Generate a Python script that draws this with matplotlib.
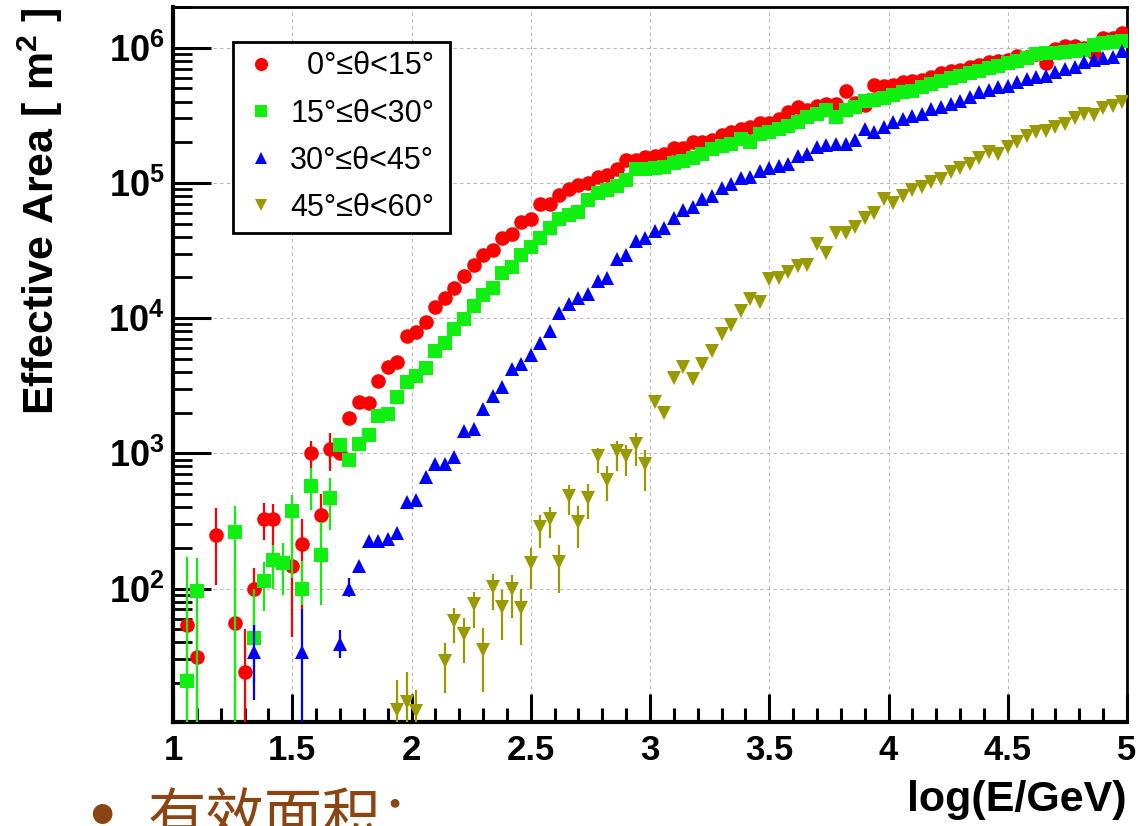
import matplotlib
matplotlib.use("Agg")
import numpy as np
import matplotlib.pyplot as plt
from matplotlib.lines import Line2D
from matplotlib.ticker import FixedLocator, MultipleLocator, LogLocator, NullFormatter, FuncFormatter

plt.rcParams['font.family'] = ['Liberation Sans', 'DejaVu Sans']
plt.rcParams['font.weight'] = 'bold'
plt.rcParams['mathtext.fontset'] = 'custom'
plt.rcParams['mathtext.rm'] = 'Liberation Sans'
plt.rcParams['mathtext.bf'] = 'Liberation Sans:bold'
plt.rcParams['mathtext.it'] = 'Liberation Sans:italic'

# ---- binning: 100 bins of width 0.04 in log10(E/GeV) ----
bin_centres = [round(1.02 + 0.04 * k, 2) for k in range(100)]

# ---- effective area [m^2] per zenith band (None = empty bin) ----
area_0_15 = [
    None, 54, 31, None, 247, None, 56, 24, 100, 328,
    325, None, 147, 213, 1000, 348, 1077, 1005, 1820, 2390,
    2370, 3410, 4355, 4775, 7360, 7930, 9400, 12100, 14100, 16700,
    20500, 24700, 29300, 31900, 38900, 41700, 51400, 54500, 70300, 70300,
    81100, 90800, 96200, 100500, 110700, 114800, 126200, 148600, 147200, 156000,
    158500, 163000, 180700, 180700, 201400, 201400, 208400, 227000, 236000, 250000,
    261000, 276700, 276700, 299200, 337300, 361400, 345100, 371500, 384600, 382800,
    479700, 389000, 378400, 529700, 518800, 531000, 553000, 570000, 575000, 610000,
    646000, 668000, 684000, 716000, 745000, 780000, 794000, 813000, 871000, 851000,
    891000, 766000, 977000, 1023000, 1023000, 1000000, 912000, 1175000, 1175000, 1288000,
]
area_15_30 = [
    None, 20.7, 96, None, None, None, 260, None, 43, 114,
    163, 154, 372, 100, 577, 178, 466, 1143, 885, 1180,
    1355, 1880, 1945, 2590, 3365, 3715, 4285, 5700, 6515, 8320,
    9770, 12390, 14800, 16750, 21700, 23900, 29300, 33600, 38900, 46100,
    53800, 57900, 61200, 74500, 84100, 88100, 95100, 105900, 126200, 127600,
    128500, 131500, 141300, 145500, 152400, 163000, 177800, 187900, 193600, 210900,
    201400, 229600, 239900, 252400, 264200, 279900, 304800, 322800, 345100, 304800,
    345100, 361400, 404600, 410200, 421700, 446700, 466700, 479700, 508200, 538300,
    570200, 597000, 620900, 648600, 676100, 707900, 736200, 765600, 801700, 839500,
    897500, 907800, 914100, 922600, 939700, 961600, 1052000, 1076000, 1096000, 1114000,
]
area_30_45 = [
    None, None, None, None, None, None, None, None, 34, None,
    None, None, None, 34, None, None, None, 39, 100, 147,
    225, 224, 231, 257, 435, 455, 667, 828, 828, 944,
    1455, 1520, 2140, 2640, 3090, 4170, 4540, 5380, 6560, 8020,
    10840, 12620, 14130, 15140, 18920, 19950, 27480, 29310, 37150, 38900,
    44060, 46670, 55340, 62810, 66370, 75680, 80170, 92260, 98850, 108400,
    110700, 122700, 129700, 133700, 139000, 158500, 163000, 184900, 191000, 195400,
    193600, 207000, 250000, 236000, 259400, 281800, 296500, 313300, 322800, 351600,
    365600, 382800, 404600, 428500, 466700, 488700, 508200, 523600, 553400, 586100,
    602600, 620900, 656100, 695000, 714500, 778000, 810900, 833700, 847200, 950600,
]
area_45_60 = [
    None, None, None, None, None, None, None, None, None, None,
    None, None, None, None, None, None, None, None, None, None,
    None, None, None, 12.6, 14.6, 12.4, None, None, 29.1, 57.7,
    46.0, 76.7, 35.2, 103.5, 73.1, 98.8, 71.4, 154, 283, 328,
    158, 486, 313, 467, 951, 638, 1047, 951, 1172, 834,
    2400, 2000, 3614, 4335, 3548, 4540, 5702, 7656, 8830, 11270,
    13740, 13210, 19540, 19910, 22030, 24270, 24720, 35160, 30130, 42850,
    42850, 47420, 55340, 60260, 75860, 70470, 80170, 88310, 93330, 102300,
    106400, 119400, 129700, 137400, 152400, 167900, 164800, 182800, 201400, 222800,
    236000, 242700, 257000, 274800, 301300, 325800, 319200, 357300, 371500, 399900,
]

# ---- statistical error bars (low / high ends) where they stick out of the markers ----
bars_0_15_x = [1.06, 1.10, 1.18, 1.26, 1.30, 1.34, 1.38, 1.42, 1.50, 1.54, 1.58, 1.62, 1.66]
bars_0_15_lo = [0, 0, 106, 0, 0, 40, 229, 100, 44, 69, 778, 251, 736]
bars_0_15_hi = [106, 57, 394, 150, 50, 141, 429, 419, 331, 324, 1242, 497, 1413]

bars_15_30_x = [1.06, 1.10, 1.26, 1.34, 1.38, 1.42, 1.46, 1.50, 1.54, 1.58, 1.62, 1.66]
bars_15_30_lo = [0, 0, 0, 20, 68, 100, 90, 119, 76, 383, 76, 272]
bars_15_30_hi = [170, 168, 405, 100, 158, 211, 217, 494, 160, 778, 313, 656]

bars_30_45_x = [1.34, 1.54, 1.70, 1.74]
bars_30_45_lo = [15, 0, 30.5, 87]
bars_30_45_hi = [54, 70, 49, 119]

bars_45_60_x = [1.94, 1.98, 2.02, 2.14, 2.18, 2.22, 2.26, 2.30, 2.34, 2.38, 2.42, 2.46, 2.50,
                2.54, 2.58, 2.62, 2.66, 2.70, 2.74, 2.78, 2.82, 2.86, 2.90, 2.94, 2.98]
bars_45_60_lo = [0, 0, 0, 16.8, 39.4, 28, 50.8, 17.3, 69.5, 41.7, 60.3, 38.5, 100,
                 199.5, 236, 92.5, 352, 199.5, 324, 714, 441, 736, 676, 802, 524]
bars_45_60_hi = [21.1, 24.3, 17.8, 39.4, 71.4, 60.3, 95, 50.8, 127.6, 97.7, 125.9, 100, 199.5,
                 351.6, 398, 208.9, 586, 404.6, 593, 1094, 802, 1227, 1159, 1413, 1064]

labels = ['  0°≤θ<15°', '15°≤θ<30°', '30°≤θ<45°', '45°≤θ<60°']
colors = ['#ff0000', '#10f010', '#0000ff', '#999900']
markers = ['o', 's', '^', 'v']
marker_sizes = [10.5, 9.5, 9.5, 10.0]

series = [
    (area_0_15, bars_0_15_x, bars_0_15_lo, bars_0_15_hi),
    (area_15_30, bars_15_30_x, bars_15_30_lo, bars_15_30_hi),
    (area_30_45, bars_30_45_x, bars_30_45_lo, bars_30_45_hi),
    (area_45_60, bars_45_60_x, bars_45_60_lo, bars_45_60_hi),
]

W, H = 1138, 826
fig = plt.figure(figsize=(W / 100, H / 100), dpi=100)
ax = fig.add_axes([173 / W, 1 - 722 / H, (1127 - 173) / W, (722 - 7) / H])

ax.set_xlim(1, 5)
ax.set_yscale('log')
ax.set_ylim(10.3, 2.0e6)

x_all = np.array(bin_centres)
for k, (vals, bx, blo, bhi) in enumerate(series):
    y = np.array([np.nan if v is None else v for v in vals], dtype=float)
    lo = np.maximum(np.array(blo, dtype=float), 1e-3)
    ax.vlines(bx, lo, bhi, colors=colors[k], linewidth=1.6, zorder=3 + 2 * k)
    ax.plot(x_all, y, linestyle='none', marker=markers[k], ms=marker_sizes[k],
            color=colors[k], markeredgewidth=0, zorder=4 + 2 * k)

# axes styling
ax.set_axisbelow(True)
ax.grid(True, which='major', color='#b8b8b8', linestyle=(0, (3, 3)), linewidth=0.8)

ax.xaxis.set_major_locator(MultipleLocator(0.5))
ax.xaxis.set_minor_locator(MultipleLocator(0.1))
ax.xaxis.set_major_formatter(FuncFormatter(lambda v, p: f'{v:g}'))

ax.yaxis.set_major_locator(FixedLocator([1e2, 1e3, 1e4, 1e5, 1e6]))
ax.yaxis.set_major_formatter(FuncFormatter(lambda v, p: r'$\mathbf{10^{%d}}$' % round(np.log10(v))))
ax.yaxis.set_minor_locator(LogLocator(base=10, subs=np.arange(2, 10), numticks=20))
ax.yaxis.set_minor_formatter(NullFormatter())

ax.tick_params(which='both', direction='in', top=False, right=False, color='black')
ax.tick_params(axis='x', which='major', length=20, width=2.2, pad=9, labelsize=25)
ax.tick_params(axis='x', which='minor', length=10, width=2.2)
ax.tick_params(axis='y', which='major', length=27, width=2.2, pad=6, labelsize=26)
ax.tick_params(axis='y', which='minor', length=14, width=2.0)

for side, lw in (('left', 3.0), ('bottom', 3.0), ('top', 2.0), ('right', 2.0)):
    ax.spines[side].set_linewidth(lw)

# legend
handles = [Line2D([], [], linestyle='none', marker=markers[k], ms=marker_sizes[k] * 0.9,
                  color=colors[k], markeredgewidth=0) for k in range(4)]
leg = ax.legend(handles, labels, loc='upper left',
                bbox_to_anchor=((233 - 173) / 954, 0.684, (450 - 233) / 954, 0.2675),
                mode='expand', borderaxespad=0, frameon=True, fancybox=False,
                edgecolor='black', framealpha=1, borderpad=0.32, labelspacing=0.56,
                handlelength=1.22, handletextpad=0.33, numpoints=1,
                prop={'family': ['Liberation Sans', 'DejaVu Sans'], 'weight': 'normal', 'size': 22})
leg.get_frame().set_linewidth(2)
leg.set_zorder(20)

# axis titles
fig.text(40 / W, 1 - 211 / H, r'Effective Area [ m$^{\mathbf{2}}$ ]', rotation=90,
         ha='center', va='center', fontsize=31, fontweight='bold')
fig.text(1127 / W, 1 - 800 / H, 'log(E/GeV)', ha='right', va='center',
         fontsize=31, fontweight='bold')

# slide caption below the plot
caption_color = '#8b4513'
fig.text(89 / W, 1 - 838 / H, '•', ha='left', va='baseline', fontsize=52,
         color=caption_color, fontweight='normal', family=['Liberation Sans', 'DejaVu Sans'])
fig.text(148 / W, 1 - 836 / H, '有效面积：', ha='left', va='baseline', fontsize=42,
         color=caption_color, fontweight='normal', family=['Noto Sans CJK SC', 'DejaVu Sans'])

fig.savefig('out.png', dpi=100)
